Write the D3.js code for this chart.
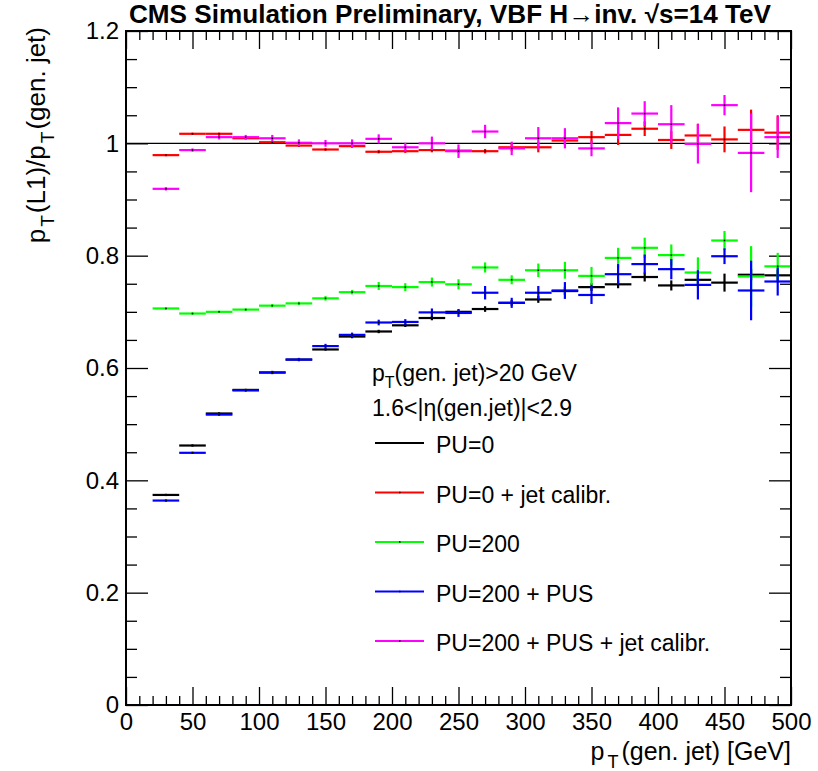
<!DOCTYPE html>
<html>
<head>
<meta charset="utf-8">
<script src="https://cdn.jsdelivr.net/npm/d3@7"></script>
<style>
  html, body { margin: 0; padding: 0; background: #fff; }
  svg { display: block; font-family: "Liberation Sans", Arial, Helvetica, sans-serif; }
</style>
</head>
<body>
<svg id="chart" width="818" height="771"></svg>
<script>
// ---------- data ----------
const binEdges = [20, 40, 60, 80, 100, 120, 140, 160, 180, 200, 220, 240, 260, 280, 300, 320, 340, 360, 380, 400, 420, 440, 460, 480, 500];

const pu0 = [0.374, 0.462, 0.519, 0.561, 0.592, 0.615, 0.633, 0.656, 0.665, 0.676, 0.689, 0.700, 0.705, 0.716, 0.722, 0.737, 0.744, 0.749, 0.762, 0.747, 0.757, 0.752, 0.766, 0.765];
const pu0Err = [0.002, 0.002, 0.002, 0.002, 0.002, 0.002, 0.002, 0.003, 0.003, 0.003, 0.004, 0.004, 0.005, 0.005, 0.006, 0.007, 0.007, 0.007, 0.008, 0.009, 0.009, 0.016, 0.010, 0.010];

const pu0Calib = [0.979, 1.017, 1.017, 1.009, 1.002, 0.996, 0.989, 0.995, 0.985, 0.986, 0.988, 0.987, 0.986, 0.993, 0.993, 1.005, 1.011, 1.015, 1.026, 1.006, 1.014, 1.007, 1.024, 1.019];
const pu0CalibErr = [0.002, 0.002, 0.002, 0.002, 0.002, 0.002, 0.002, 0.003, 0.003, 0.003, 0.004, 0.004, 0.004, 0.007, 0.009, 0.008, 0.011, 0.018, 0.013, 0.016, 0.021, 0.023, 0.036, 0.031];

const pu200 = [0.706, 0.697, 0.700, 0.704, 0.711, 0.715, 0.724, 0.735, 0.746, 0.744, 0.753, 0.749, 0.779, 0.757, 0.774, 0.774, 0.764, 0.796, 0.814, 0.801, 0.770, 0.827, 0.763, 0.781];
const pu200Err = [0.002, 0.002, 0.002, 0.002, 0.003, 0.003, 0.004, 0.004, 0.007, 0.007, 0.008, 0.009, 0.009, 0.008, 0.012, 0.015, 0.016, 0.018, 0.018, 0.019, 0.027, 0.017, 0.054, 0.024];

const pu200Pus = [0.364, 0.449, 0.517, 0.560, 0.592, 0.615, 0.639, 0.659, 0.681, 0.682, 0.699, 0.698, 0.734, 0.716, 0.734, 0.738, 0.730, 0.767, 0.785, 0.776, 0.748, 0.799, 0.738, 0.754];
const pu200PusErr = [0.002, 0.002, 0.002, 0.002, 0.003, 0.003, 0.004, 0.004, 0.005, 0.005, 0.007, 0.007, 0.012, 0.009, 0.012, 0.015, 0.016, 0.018, 0.017, 0.018, 0.026, 0.014, 0.053, 0.025];

const pu200PusCalib = [0.919, 0.988, 1.011, 1.011, 1.009, 1.001, 1.000, 1.000, 1.008, 0.993, 1.000, 0.986, 1.021, 0.991, 1.009, 1.009, 0.991, 1.036, 1.053, 1.034, 0.999, 1.068, 0.983, 1.011];
const pu200PusCalibErr = [0.003, 0.003, 0.004, 0.004, 0.006, 0.006, 0.006, 0.007, 0.008, 0.008, 0.012, 0.012, 0.012, 0.012, 0.020, 0.018, 0.014, 0.028, 0.022, 0.034, 0.035, 0.018, 0.070, 0.037];

const seriesNames = ["PU=0", "PU=0 + jet calibr.", "PU=200", "PU=200 + PUS", "PU=200 + PUS + jet calibr."];
const seriesColors = ["#000000", "#ff0000", "#00ff00", "#0000ff", "#ff00ff"];
const seriesValues = [pu0, pu0Calib, pu200, pu200Pus, pu200PusCalib];
const seriesErrors = [pu0Err, pu0CalibErr, pu200Err, pu200PusErr, pu200PusCalibErr];

const xMajorTicks = [0, 50, 100, 150, 200, 250, 300, 350, 400, 450, 500];
const yMajorTicks = [0, 0.2, 0.4, 0.6, 0.8, 1.0, 1.2];
const xDomain = [0, 500];
const yDomain = [0, 1.2];

const titleText = "CMS Simulation Preliminary, VBF H\u2192inv. \u221As=14 TeV";
const legendHeader1 = "(gen. jet)>20 GeV";
const legendHeader2 = "1.6<|\u03B7(gen.jet)|<2.9";

// ---------- layout ----------
const L = 126, R = 791, T = 31, B = 705;
const svg = d3.select("#chart");
const x = d3.scaleLinear().domain(xDomain).range([L, R]);
const y = d3.scaleLinear().domain(yDomain).range([B, T]);

const xMinor = d3.range(0, 501, 10).filter(v => v % 50 !== 0);
const yMinor = d3.range(0, 1.2001, 0.05).map(v => +v.toFixed(2)).filter(v => Math.abs(v / 0.2 - Math.round(v / 0.2)) > 1e-6);

const fmt = d3.format("~g");
function styleAxis(g) {
  g.select(".domain").remove();
  g.selectAll(".tick line").attr("stroke", "#000").attr("stroke-width", 1.3);
  g.selectAll(".tick text").attr("fill", "#000");
}

// bottom axis major + labels
svg.append("g").attr("transform", `translate(0,${B})`)
  .call(d3.axisBottom(x).tickValues(xMajorTicks).tickSize(-18).tickPadding(8).tickFormat(fmt))
  .call(styleAxis)
  .call(g => g.selectAll(".tick text").attr("font-size", 24).attr("font-family", "Liberation Sans, Arial, sans-serif"));
svg.append("g").attr("transform", `translate(0,${B})`)
  .call(d3.axisBottom(x).tickValues(xMinor).tickSize(-9).tickFormat(""))
  .call(styleAxis);
// top axis
svg.append("g").attr("transform", `translate(0,${T})`)
  .call(d3.axisTop(x).tickValues(xMajorTicks).tickSize(-18).tickFormat(""))
  .call(styleAxis);
svg.append("g").attr("transform", `translate(0,${T})`)
  .call(d3.axisTop(x).tickValues(xMinor).tickSize(-9).tickFormat(""))
  .call(styleAxis);
// left axis
svg.append("g").attr("transform", `translate(${L},0)`)
  .call(d3.axisLeft(y).tickValues(yMajorTicks).tickSize(-22).tickPadding(7).tickFormat(fmt))
  .call(styleAxis)
  .call(g => g.selectAll(".tick text").attr("font-size", 24).attr("font-family", "Liberation Sans, Arial, sans-serif"));
svg.append("g").attr("transform", `translate(${L},0)`)
  .call(d3.axisLeft(y).tickValues(yMinor).tickSize(-11).tickFormat(""))
  .call(styleAxis);
// right axis
svg.append("g").attr("transform", `translate(${R},0)`)
  .call(d3.axisRight(y).tickValues(yMajorTicks).tickSize(-22).tickFormat(""))
  .call(styleAxis);
svg.append("g").attr("transform", `translate(${R},0)`)
  .call(d3.axisRight(y).tickValues(yMinor).tickSize(-11).tickFormat(""))
  .call(styleAxis);

// reference line at 1
svg.append("line")
  .attr("x1", x(xDomain[0])).attr("x2", x(xDomain[1]))
  .attr("y1", y(1)).attr("y2", y(1))
  .attr("stroke", "#000").attr("stroke-width", 1.3);

// data series
seriesValues.forEach((vals, si) => {
  const color = seriesColors[si];
  const errs = seriesErrors[si];
  const g = svg.append("g").attr("class", "series");
  vals.forEach((v, i) => {
    const lo = binEdges[i], hi = binEdges[i + 1];
    const c = (lo + hi) / 2;
    g.append("line")
      .attr("x1", x(lo)).attr("x2", x(hi))
      .attr("y1", y(v)).attr("y2", y(v))
      .attr("stroke", color).attr("stroke-width", 2.2);
    g.append("line")
      .attr("x1", x(c)).attr("x2", x(c))
      .attr("y1", y(v - errs[i])).attr("y2", y(v + errs[i]))
      .attr("stroke", color).attr("stroke-width", 2.2);
    g.append("rect")
      .attr("x", x(c) - 0.75).attr("y", y(v) - 0.75)
      .attr("width", 1.5).attr("height", 1.5)
      .attr("fill", "#000");
  });
});

// frame
svg.append("rect")
  .attr("x", L).attr("y", T).attr("width", R - L).attr("height", B - T)
  .attr("fill", "none").attr("stroke", "#000").attr("stroke-width", 2);

// title
svg.append("text")
  .attr("x", 129).attr("y", 23)
  .attr("font-size", 25).attr("font-weight", "bold")
  .attr("textLength", 642).attr("lengthAdjust", "spacingAndGlyphs")
  .attr("fill", "#000")
  .text(titleText);

// y axis title
const yt = svg.append("text")
  .attr("transform", `translate(45,27) rotate(-90)`)
  .attr("text-anchor", "end").attr("font-size", 26).attr("fill", "#000");
yt.append("tspan").text("p");
yt.append("tspan").attr("font-size", 19).attr("dx", 2).attr("dy", 9).text("T");
yt.append("tspan").attr("dx", 2).attr("dy", -9).text("(L1)/p");
yt.append("tspan").attr("font-size", 19).attr("dx", 2).attr("dy", 9).text("T");
yt.append("tspan").attr("dx", 2).attr("dy", -9).text("(gen. jet)");

// x axis title
const xt = svg.append("text")
  .attr("x", R).attr("y", 760)
  .attr("text-anchor", "end").attr("font-size", 25).attr("fill", "#000");
xt.append("tspan").text("p");
xt.append("tspan").attr("font-size", 18).attr("dx", 3).attr("dy", 8).text("T");
xt.append("tspan").attr("dx", 3).attr("dy", -8).text("(gen. jet) [GeV]");

// legend
const lg = svg.append("g").attr("font-size", 23).attr("fill", "#000");
const h1 = lg.append("text").attr("x", 372).attr("y", 381);
h1.append("tspan").text("p");
h1.append("tspan").attr("font-size", 16).attr("dy", 7).text("T");
h1.append("tspan").attr("dy", -7).text(legendHeader1);
lg.append("text").attr("x", 372).attr("y", 416).text(legendHeader2);

seriesNames.forEach((name, i) => {
  const ly = 443 + i * 49.5;
  lg.append("line")
    .attr("x1", 375).attr("x2", 424).attr("y1", ly).attr("y2", ly)
    .attr("stroke", seriesColors[i]).attr("stroke-width", 2.2);
  lg.append("rect").attr("x", 399).attr("y", ly - 0.75).attr("width", 1.5).attr("height", 1.5).attr("fill", "#000");
  lg.append("text").attr("x", 436).attr("y", ly + 10).text(name);
});
</script>
</body>
</html>
